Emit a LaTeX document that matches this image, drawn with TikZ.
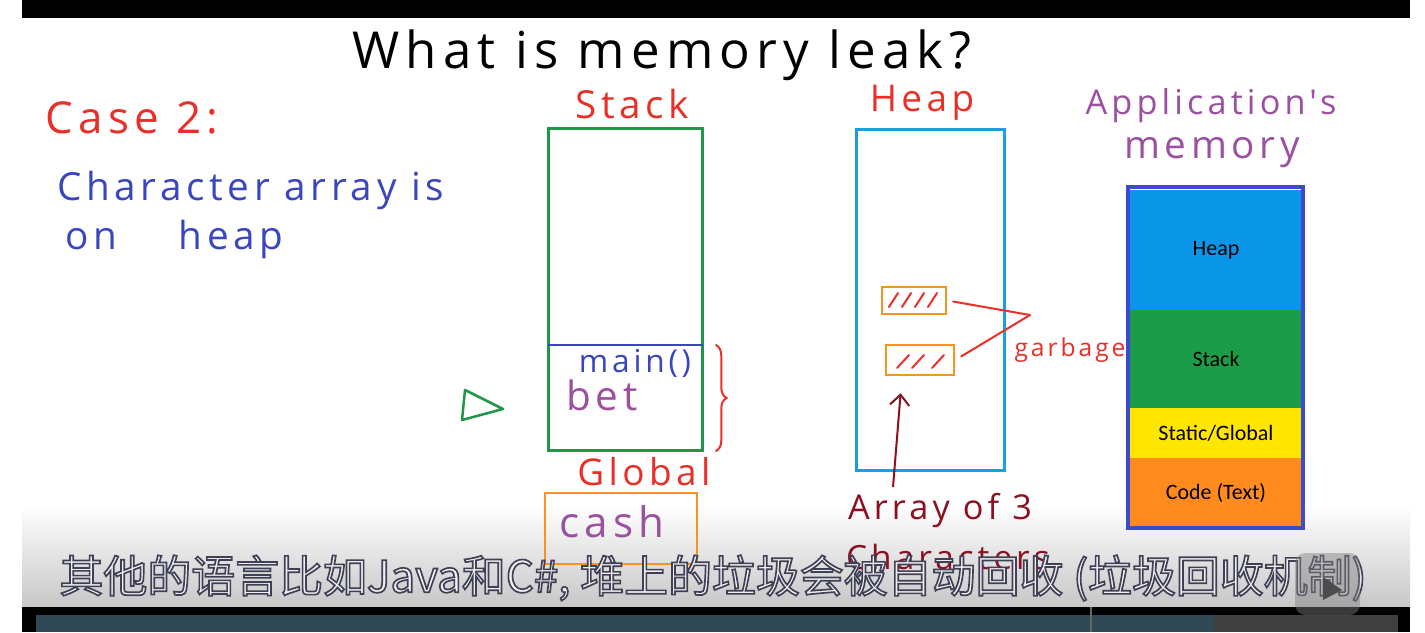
\documentclass[tikz,border=0pt]{standalone}
\usepackage{fontspec}
\setmainfont{Open Sans}
\newfontfamily\hand[LetterSpace=12]{Open Sans}
\newfontfamily\calib{Carlito}
\newfontfamily\cjk[FakeBold=3.8]{Noto Sans CJK SC}
\usepackage{xcolor}
\usetikzlibrary{arrows.meta,positioning,decorations.pathreplacing}

\definecolor{redink}{RGB}{232,48,40}
\definecolor{blueink}{RGB}{58,70,192}
\definecolor{purpink}{RGB}{155,80,160}
\definecolor{greenink}{RGB}{32,150,70}
\definecolor{cyanink}{RGB}{25,160,225}
\definecolor{orangeink}{RGB}{247,147,30}
\definecolor{maroonink}{RGB}{140,16,32}
\definecolor{memblue}{RGB}{60,75,205}
\definecolor{memheap}{RGB}{10,150,230}
\definecolor{memstack}{RGB}{26,156,72}
\definecolor{memstatic}{RGB}{255,230,0}
\definecolor{memcode}{RGB}{255,138,30}
\definecolor{subfill}{RGB}{238,238,244}
\definecolor{wave}{RGB}{46,72,84}

\newlength{\px}\setlength{\px}{0.02cm}

\tikzset{
  hw/.style={font=\hand\fontsize{#1}{#1}\selectfont,inner sep=0pt},
  region/.style={draw=#1,line width=3\px,inner sep=0pt},
  cellbox/.style={draw=orangeink,line width=2.5\px,inner sep=0pt},
  hatch/.style={redink,line width=2\px,line cap=round},
  redline/.style={redink,line width=2\px,line cap=round},
  seg/.style={fill=#1,minimum width=172\px,inner sep=0pt,
              font=\calib\fontsize{12.5pt}{14pt}\selectfont},
}

\begin{document}
\begin{tikzpicture}[x=0.02cm,y=-0.02cm,>=Stealth]
\useasboundingbox (0,0) rectangle (1425,632);
\fill[white] (0,0) rectangle (1425,632);

%% ---------- video frame ----------
\fill[black] (22,0) rectangle (1410,18);
\shade[top color=white,bottom color=black!22] (22,505) rectangle (1410,607);

%% ---------- headings ----------
\node[hw=29pt] (title) at (662,55) {What is memory leak?};
\node[hw=25pt,text=redink] (case) at (132,118) {Case 2:};
\node[hw=22pt,text=blueink,anchor=west] (desc1) at (57,190) {Character array is};
\node[hw=22pt,text=blueink,anchor=west] (desc2) at (65,239) {on\hspace{1.6em}heap};

%% ---------- stack ----------
\node[hw=22pt,text=redink] (stacklbl) at (632,104) {Stack};
\node[region=greenink,minimum width=154\px,minimum height=322\px]
  (stack) at (625.5,289.5) {};
\draw[blueink,line width=2\px] (548,345) -- (703,345);
\node[hw=18pt,text=blueink] (mainf) at (635,363) {main()};
\node[hw=23pt,text=purpink] (bet) at (602,395) {bet};
\draw[redline,decorate,decoration={brace,amplitude=6pt}]
  (716,345) -- (716,451);
\draw[greenink,line width=2.5\px,line join=round]
  (465,390) -- (503,409) -- (462,420) -- cycle;

%% ---------- global ----------
\node[hw=21pt,text=redink] (globlbl) at (644,472) {Global};
\node[cellbox,minimum width=152\px,minimum height=71\px] (cash) at (621,528.5) {};
\node[hw=24pt,text=purpink] (cashlbl) at (612,522) {cash};

%% ---------- heap ----------
\node[hw=21pt,text=redink] (heaplbl) at (922,103) {Heap};
\node[region=cyanink,minimum width=148\px,minimum height=341\px]
  (heap) at (930.5,300) {};
\node[cellbox,minimum width=64\px,minimum height=27\px] (arrA) at (914,300.5) {};
\node[cellbox,minimum width=68\px,minimum height=30\px] (arrB) at (920,360) {};
\foreach \x in {893,906,919,932}
  \draw[hatch] (\x-4,307) -- (\x+5,293);
\foreach \x in {903,918,938}
  \draw[hatch] (\x-6,368) -- (\x+6,355);

%% garbage pointers
\coordinate (gtip) at (1030,315);
\draw[redline,shorten <=6\px] (arrA.east) -- (gtip);
\draw[redline,shorten <=7\px] (arrB.east) -- (gtip);
\node[hw=14pt,text=redink] (garb) at (1070,350) {garbage};

%% array annotation
\coordinate (atail) at (893,487);
\draw[maroonink,line width=2\px,-{Straight Barb[length=6pt,width=11pt]},shorten >=17\px]
  (atail) -- ([xshift=-18\px]arrB.south);
\node[hw=19.5pt,text=maroonink] (arrlbl) at (940,510) {Array of 3};
\node[hw=19pt,text=maroonink] (charlbl) at (948,557) {Characters};

%% ---------- application's memory ----------
\node[hw=19.5pt,text=purpink] (applbl) at (1211,106) {Application's};
\node[hw=22pt,text=purpink] (memlbl) at (1212,153) {memory};
\node[seg=memheap,minimum height=120\px] (mheap) at (1216,250) {Heap};
\node[seg=memstack,minimum height=98\px] (mstack) at (1216,359) {Stack};
\node[seg=memstatic,minimum height=50\px] (mstatic) at (1216,433) {Static/Global};
\node[seg=memcode,minimum height=69\px] (mcode) at (1216,492.5) {Code (Text)};
\node[draw=memblue,line width=4\px,minimum width=175\px,minimum height=341\px,
      inner sep=0pt] (mem) at (1215.5,357.5) {};

%% ---------- subtitle and player bar ----------
\node[font=\cjk\fontsize{25pt}{25pt}\selectfont,text=subfill,inner sep=0pt]
  (subs) at (713,578)
  {\special{pdf:literal direct 0.25 0.25 0.33 RG}其他的语言比如Java和C\#, 堆上的垃圾会被自动回收 (垃圾回收机制)};
\fill[black] (22,607) rectangle (1410,632);
\fill[wave] (36,615) rectangle (1214,632);
\fill[black!75] (1214,615) rectangle (1398,632);
\draw[black!60,line width=2\px] (1091,607) -- (1091,632);
\fill[gray,opacity=0.45,rounded corners=6pt] (1295,553) rectangle (1360,615);
\fill[black!70] (1323,577) -- (1342,590) -- (1323,600) -- cycle;
\end{tikzpicture}
\end{document}
